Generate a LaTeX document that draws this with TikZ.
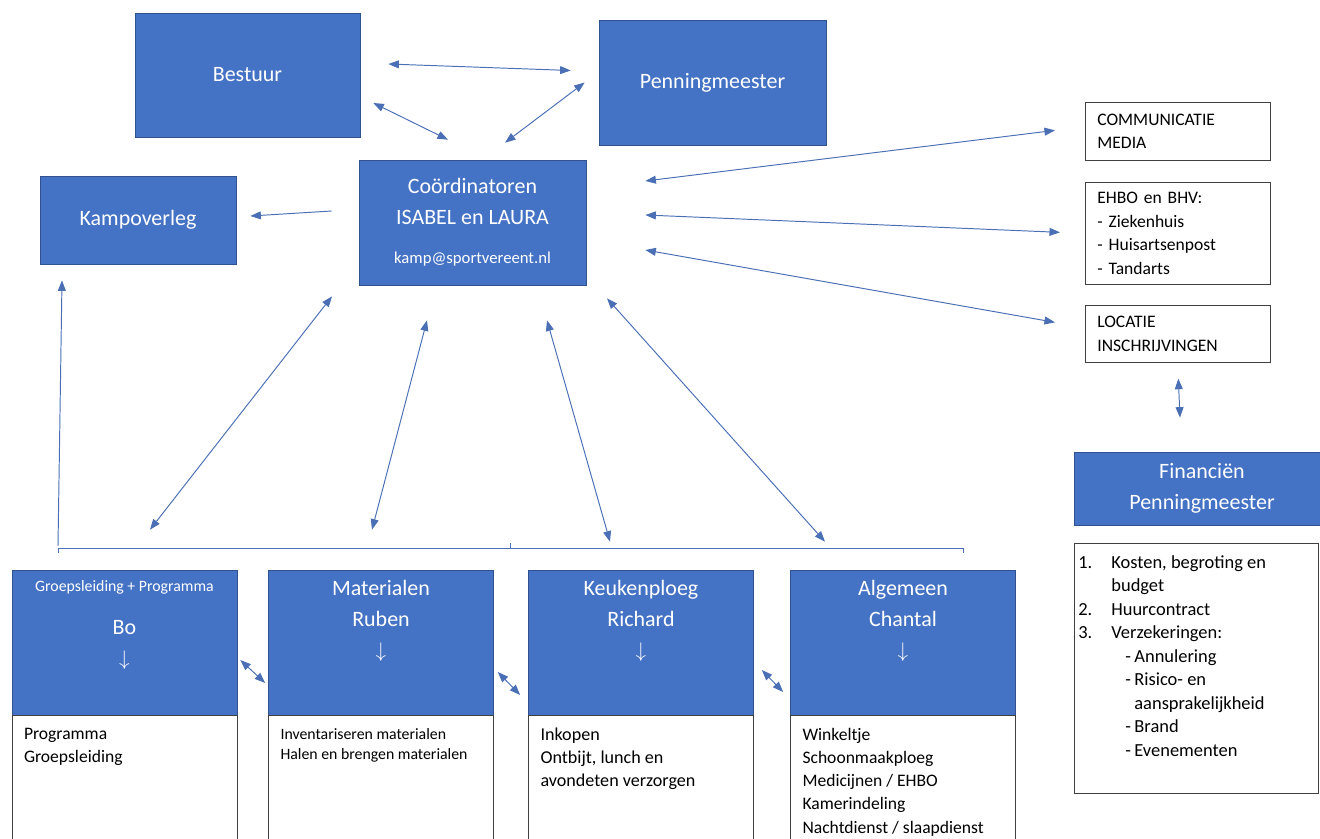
\documentclass[tikz,border=0pt]{standalone}
\usepackage{fontspec}
\setmainfont{Carlito}
\usetikzlibrary{arrows.meta,calc,positioning}
\definecolor{blauw}{HTML}{4472C4}
\definecolor{rand}{HTML}{2F528F}
\definecolor{lijn}{HTML}{4A6FB5}
\newcommand{\vak}[3]{\begin{minipage}[t][#1][t]{#2}#3\end{minipage}}

\tikzset{
  blok/.style={draw=rand, fill=blauw, text=white, align=center, inner sep=0pt,
    font=\fontsize{12.5}{17.5}\selectfont},
  kop/.style={blok, inner xsep=0.1cm, inner ysep=0.21cm},
  taak/.style={draw=black!75, fill=white, inner xsep=0.24cm, inner ysep=0.25cm},
  kader/.style={draw=black!75, fill=white, align=left, inner xsep=0.24cm, inner ysep=0pt,
    anchor=north west, text width=3.22cm, minimum width=3.7cm,
    font=\fontsize{10}{13.3}\selectfont},
  pijl/.style={draw=lijn, line width=0.55pt,
    {Triangle[length=6pt,width=4.5pt]}-{Triangle[length=6pt,width=4.5pt]}},
  enkel/.style={draw=lijn, line width=0.55pt, -{Triangle[length=6pt,width=4.5pt]}},
}

\begin{document}
\begin{tikzpicture}[x=0.02cm, y=-0.02cm]
    \useasboundingbox (0,0) rectangle (1320,839);

    \node[blok, minimum width=4.5cm, minimum height=2.48cm] (bestuur) at (247.5,75) {Bestuur};
    \node[blok, minimum width=4.54cm, minimum height=2.5cm] (penning) at (712.5,82.5) {Penningmeester};
    \node[blok, minimum width=4.54cm, minimum height=2.5cm] (coord) at (472.5,222.5)
        {Coördinatoren\\ISABEL en LAURA\\[5pt]{\fontsize{9.5}{11}\selectfont kamp@sportvereent.nl}};
    \node[blok, minimum width=3.92cm, minimum height=1.76cm] (kamp) at (138,220) {Kampoverleg};

    \node[kader, minimum height=1.16cm] (media) at (1085,102) {COMMUNICATIE\\MEDIA};
    \node[kader, minimum height=2.04cm] (ehbo) at (1085,182)
        {EHBO en BHV:\\- Ziekenhuis\\- Huisartsenpost\\- Tandarts};
    \node[kader, minimum height=1.14cm] (locatie) at (1085,305) {LOCATIE\\INSCHRIJVINGEN};

    \node[blok, minimum width=5.12cm, minimum height=1.46cm] (fin) at (1202,488.5) {Financiën\\Penningmeester};
    \node[taak, anchor=north west, inner xsep=0.08cm, inner ysep=0.24cm,
        font=\fontsize{10.5}{13.4}\selectfont] (finlijst) at (1074,543) {\vak{4.52cm}{4.72cm}{%
        \makebox[18.8pt][l]{1.}Kosten, begroting en\\
        \hspace*{18.8pt}budget\\
        \makebox[18.8pt][l]{2.}Huurcontract\\
        \makebox[18.8pt][l]{3.}Verzekeringen:\\
        \hspace*{26.7pt}\makebox[5.2pt][l]{-}Annulering\\
        \hspace*{26.7pt}\makebox[5.2pt][l]{-}Risico- en\\
        \hspace*{31.9pt}aansprakelijkheid\\
        \hspace*{26.7pt}\makebox[5.2pt][l]{-}Brand\\
        \hspace*{26.7pt}\makebox[5.2pt][l]{-}Evenementen}};

    \node[kop] (bo) at (124.5,642.5) {\vak{2.48cm}{4.3cm}{\centering
        {\fontsize{9}{11}\selectfont Groepsleiding + Programma}\\[7pt]Bo\\$\downarrow$}};
    \node[kop] (mat) at (381,642.5) {\vak{2.48cm}{4.3cm}{\centering Materialen\\Ruben\\$\downarrow$}};
    \node[kop] (keuken) at (641,642.5) {\vak{2.48cm}{4.3cm}{\centering Keukenploeg\\Richard\\$\downarrow$}};
    \node[kop] (algemeen) at (903,642.5) {\vak{2.48cm}{4.3cm}{\centering Algemeen\\Chantal\\$\downarrow$}};

    \node[taak, below=0pt of bo, font=\fontsize{10}{13}\selectfont] (botaak)
        {\vak{2.1cm}{4.02cm}{\raggedright Programma\\Groepsleiding}};
    \node[taak, below=0pt of mat, font=\fontsize{9}{11.4}\selectfont] (mattaak)
        {\vak{2.1cm}{4.02cm}{\raggedright Inventariseren materialen\\Halen en brengen materialen}};
    \node[taak, below=0pt of keuken, font=\fontsize{10.3}{13}\selectfont] (keukentaak)
        {\vak{2.1cm}{4.02cm}{\raggedright Inkopen\\Ontbijt, lunch en\\avondeten verzorgen}};
    \node[taak, below=0pt of algemeen, font=\fontsize{10}{13.2}\selectfont] (algemeentaak)
        {\vak{2.1cm}{4.02cm}{\raggedright Winkeltje\\Schoonmaakploeg\\Medicijnen / EHBO\\Kamerindeling\\Nachtdienst / slaapdienst}};

    \draw[pijl] ($(bestuur.east)+(28,-11)$) -- ($(penning.west)+(-28,-12)$);
    \draw[pijl] ($(bestuur.east)+(13,28)$) -- ($(coord.north)+(-24.5,-20)$);
    \draw[pijl] ($(penning.west)+(-14,0)$) -- ($(coord.north)+(32.5,-17)$);
    \draw[enkel] ($(coord.west)+(-27,-11.5)$) -- ($(kamp.east)+(14,-4)$);

    \draw[pijl] ($(coord.east)+(59,-41.5)$) -- ($(media.west)+(-30,-1)$);
    \draw[pijl] ($(coord.east)+(59,-7.5)$) -- ($(ehbo.west)+(-25,-1)$);
    \draw[pijl] ($(coord.east)+(59,27.5)$) -- ($(locatie.west)+(-30,-11.5)$);
    \draw[pijl] ($(locatie.south)+(0.5,16)$) -- ($(fin.north)+(-22,-34)$);

    \draw[pijl] ($(coord.south)+(-140.5,11)$) -- ($(bo.north)+(25.5,-40)$);
    \draw[pijl] ($(coord.south)+(-45.5,35)$) -- ($(mat.north)+(-9,-40)$);
    \draw[pijl] ($(coord.south)+(74.5,35)$) -- ($(keuken.north)+(-31,-28)$);
    \draw[pijl] ($(coord.south)+(134.5,13)$) -- ($(algemeen.north)+(-78,-28)$);

    \draw[pijl] ($(bo.east)+(3,17.5)$) -- ($(mat.west)+(-3,40.5)$);
    \draw[pijl] ($(mat.east)+(4,29.5)$) -- ($(keuken.west)+(-8,52.5)$);
    \draw[pijl] ($(keuken.east)+(8,27.5)$) -- ($(algemeen.west)+(-7,49.5)$);

    \coordinate (haakL) at (58,548);
    \coordinate (haakR) at (963,548);
    \draw[lijn, line width=0.55pt] ([yshift=-3pt]haakL) -- (haakL) -- (haakR) -- ([yshift=-3pt]haakR);
    \draw[lijn, line width=0.55pt] ($(haakL)!0.5!(haakR)$) -- ++(0,-5);
    \draw[enkel] ($(haakL)+(0,-2)$) -- ($(kamp.south)+(-76,16)$);
\end{tikzpicture}
\end{document}
